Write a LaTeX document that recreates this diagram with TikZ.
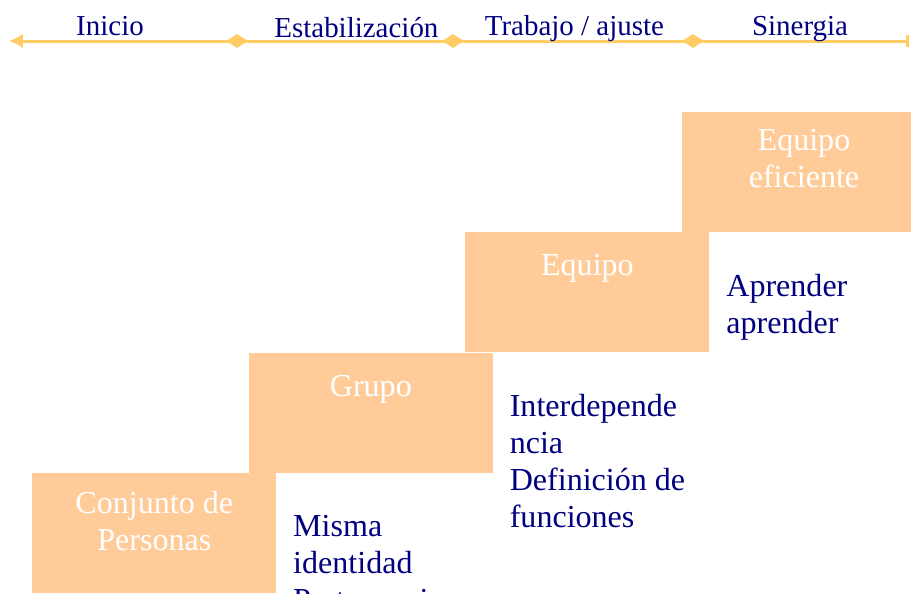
\documentclass[tikz,border=0pt]{standalone}
\usepackage{fontspec}
\setmainfont{Liberation Serif}
\usetikzlibrary{positioning,shapes.geometric,arrows.meta}

\definecolor{naranja}{HTML}{FFCC99}
\definecolor{dorado}{HTML}{FFCC66}
\definecolor{azul}{HTML}{000080}

\newcommand\cuerpo{\fontsize{22.8}{26.3}\selectfont}
\newcommand\fase{\fontsize{20.6}{24}\selectfont}

\tikzset{
  peldano/.style={fill=naranja,minimum width=61mm,minimum height=30mm,inner sep=0pt},
  titulo/.style={text=white,align=center,font=\cuerpo,anchor=north,inner sep=0pt,execute at begin node=\strut},
  nota/.style={text=azul,align=left,font=\cuerpo,anchor=north west,inner sep=0pt,execute at begin node=\strut},
  etapa/.style={text=azul,font=\fase,anchor=base,inner sep=0pt},
  hito/.style={diamond,fill=dorado,minimum width=5.5mm,minimum height=3.5mm,inner sep=0pt}
}

\begin{document}
\begin{tikzpicture}
    \clip[use as bounding box] (0,0) rectangle (227.75mm,-148.25mm);

    % linea de tiempo
    \coordinate (ini) at (2.2mm,-10.25mm);
    \coordinate (fin) at (227.2mm,-10.25mm);
    \draw[dorado,line width=0.75mm,{Latex[length=3.5mm,width=3.6mm]}-{Bar[width=3.2mm]}] (ini) -- (fin);
    \node[hito] (h1) at (59.25mm,-10.25mm) {};
    \node[hito] (h2) at (113.25mm,-10.25mm) {};
    \node[hito] (h3) at (173.25mm,-10.25mm) {};

    \node[etapa] (inicio) at (27.5mm,-8.75mm) {Inicio};
    \node[etapa] (estab) at (89.1mm,-9.25mm) {Estabilización};
    \node[etapa] (trabajo) at (143.6mm,-8.75mm) {Trabajo / ajuste};
    \node[etapa] (sinergia) at (200mm,-8.75mm) {Sinergia};

    % escalones
    \node[peldano,anchor=north west] (caja1) at (8mm,-118.25mm) {};
    \node[peldano,anchor=south west] (caja2) at ([xshift=-7mm]caja1.north east) {};
    \node[peldano,anchor=south west] (caja3) at ([xshift=-7mm]caja2.north east) {};
    \node[peldano,anchor=south west] (caja4) at ([xshift=-7mm]caja3.north east) {};

    \node[titulo] (tit1) at ([yshift=-4.5mm]caja1.north) {Conjunto de\\Personas};
    \node[titulo] (tit2) at ([yshift=-4.4mm]caja2.north) {Grupo};
    \node[titulo] (tit3) at ([yshift=-4.4mm]caja3.north) {Equipo};
    \node[titulo] (tit4) at ([yshift=-4.4mm]caja4.north) {Equipo\\eficiente};

    \node[nota] (nota1) at ([xshift=4.1mm,yshift=-10.4mm]caja1.north east) {Misma\\identidad\\Pertenencia};
    \node[nota] (nota2) at ([xshift=4.1mm,yshift=-10.4mm]caja2.north east) {Interdepende\\ncia\\Definición de\\funciones};
    \node[nota] (nota3) at ([xshift=4.1mm,yshift=-10.5mm]caja3.north east) {Aprender\\aprender};
\end{tikzpicture}
\end{document}
